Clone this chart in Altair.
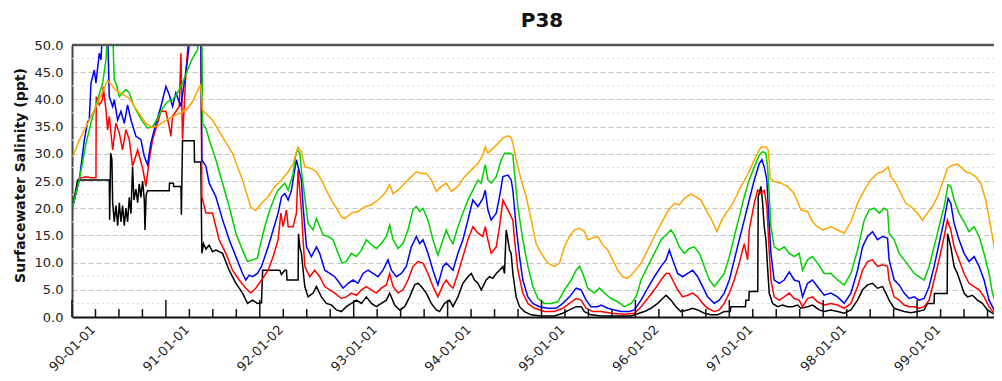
import altair as alt
import pandas as pd

# ---------------- text ----------------
TITLE = "P38"
Y_TITLE = "Surfacewater Salinity (ppt)"
year_ticks = [1990, 1991, 1992, 1993, 1994, 1995, 1996, 1997, 1998, 1999]
year_labels = ["90-01-01", "91-01-01", "92-01-02", "93-01-01", "94-01-01",
               "95-01-01", "96-01-02", "97-01-01", "98-01-01", "99-01-01"]
y_ticks = [0, 5, 10, 15, 20, 25, 30, 35, 40, 45, 50]
y_minor = [2.5, 7.5, 12.5, 17.5, 22.5, 27.5, 32.5, 37.5, 42.5, 47.5]

# ---------------- data: (years since 1990, salinity ppt) ----------------
orange = [(0.007,29.4),(0.078,32.5),(0.184,36.2),(0.273,39.3),(0.379,43.5),(0.468,41.7),(0.610,40.2),(0.681,38.3),(0.787,35.6),(0.858,34.8),(0.929,35.3),(1.000,36.2),(1.106,37.1),(1.213,38.0),(1.284,39.6),(1.355,42.3),(1.372,42.6),(1.390,38.0),(1.496,36.2),(1.603,33.1),(1.709,30.1),(1.816,25.2),(1.904,20.2),(1.957,19.6),(2.018,20.9),(2.089,22.1),(2.160,24.0),(2.231,25.2),(2.302,26.7),(2.355,28.2),(2.390,30.4),(2.408,31.2),(2.443,30.4),(2.479,27.6),(2.550,27.3),(2.603,26.7),(2.656,25.2),(2.709,23.3),(2.763,21.5),(2.816,20.0),(2.869,18.4),(2.904,18.1),(2.975,19.1),(3.046,19.4),(3.117,20.3),(3.188,20.6),(3.259,21.5),(3.330,22.7),(3.383,24.3),(3.419,22.7),(3.472,23.3),(3.543,24.6),(3.614,25.8),(3.667,26.7),(3.720,26.4),(3.773,26.4),(3.826,25.2),(3.880,23.1),(3.933,24.0),(3.986,24.6),(4.039,23.1),(4.110,24.0),(4.181,25.8),(4.252,27.0),(4.323,28.2),(4.376,29.8),(4.401,31.3),(4.429,30.1),(4.482,31.0),(4.535,31.9),(4.589,32.9),(4.642,33.3),(4.677,33.0),(4.695,31.9),(4.730,28.9),(4.784,25.2),(4.837,22.1),(4.890,17.9),(4.943,13.5),(4.996,11.7),(5.067,9.9),(5.138,9.3),(5.191,9.9),(5.245,12.9),(5.298,14.8),(5.351,16.0),(5.404,16.3),(5.457,15.7),(5.493,14.2),(5.546,14.5),(5.599,14.8),(5.652,13.3),(5.706,12.3),(5.759,10.5),(5.812,8.6),(5.865,7.4),(5.918,7.1),(5.972,8.0),(6.060,9.9),(6.131,12.3),(6.202,14.8),(6.273,17.2),(6.344,19.4),(6.415,20.9),(6.468,20.6),(6.521,21.8),(6.592,22.6),(6.645,22.1),(6.698,21.5),(6.751,19.7),(6.805,18.1),(6.868,15.7),(6.911,17.5),(6.964,19.1),(7.017,20.3),(7.071,22.1),(7.124,24.0),(7.195,26.1),(7.248,28.2),(7.301,30.1),(7.337,31.2),(7.390,31.3),(7.415,30.7),(7.436,25.5),(7.478,24.9),(7.549,24.6),(7.620,24.0),(7.691,22.7),(7.762,19.7),(7.833,19.4),(7.886,17.5),(7.939,16.6),(7.993,16.0),(8.082,16.6),(8.153,16.0),(8.224,15.4),(8.295,17.5),(8.366,20.9),(8.437,23.3),(8.507,25.2),(8.578,26.4),(8.632,26.7),(8.692,27.6),(8.720,25.8),(8.773,24.6),(8.827,22.7),(8.880,20.9),(8.933,20.3),(9.004,19.1),(9.057,17.8),(9.110,19.1),(9.163,20.3),(9.217,22.1),(9.270,24.6),(9.323,27.3),(9.376,27.9),(9.429,28.1),(9.465,27.6),(9.518,26.7),(9.571,26.4),(9.624,25.8),(9.678,24.6),(9.731,21.5),(9.784,16.6),(9.820,12.9),(9.855,11.4),(9.890,11.1)]

green = [(0.007,20.3),(0.078,25.2),(0.149,31.9),(0.220,36.9),(0.273,39.9),(0.326,43.0),(0.362,47.3),(0.379,53.0),(0.433,53.0),(0.450,43.6),(0.468,43.0),(0.504,40.5),(0.539,41.2),(0.574,41.8),(0.610,41.2),(0.645,39.3),(0.699,37.5),(0.752,35.9),(0.805,34.7),(0.858,35.0),(0.911,36.5),(0.965,38.4),(1.018,39.6),(1.071,39.9),(1.124,41.2),(1.177,43.0),(1.230,45.4),(1.284,47.6),(1.337,49.1),(1.355,53.0),(1.383,53.0),(1.390,35.6),(1.426,34.7),(1.461,32.6),(1.532,28.9),(1.603,24.6),(1.674,20.3),(1.745,15.4),(1.816,12.3),(1.869,10.2),(1.922,10.5),(1.975,10.8),(2.000,12.9),(2.053,16.6),(2.107,19.7),(2.160,22.1),(2.195,23.3),(2.231,24.0),(2.266,24.6),(2.302,23.3),(2.330,24.9),(2.355,26.4),(2.380,29.5),(2.401,30.7),(2.426,30.1),(2.443,27.0),(2.479,22.1),(2.514,17.2),(2.568,16.0),(2.603,18.1),(2.638,16.6),(2.674,15.1),(2.727,14.8),(2.780,14.2),(2.834,11.7),(2.876,9.9),(2.922,10.2),(2.975,11.7),(3.029,11.1),(3.082,12.3),(3.135,14.2),(3.188,13.3),(3.241,12.6),(3.294,13.5),(3.348,14.8),(3.383,16.9),(3.419,14.2),(3.472,12.6),(3.525,13.5),(3.578,16.0),(3.631,19.7),(3.667,20.3),(3.702,19.4),(3.738,20.0),(3.791,17.8),(3.844,14.2),(3.897,11.4),(3.951,14.2),(3.986,16.0),(4.021,14.5),(4.057,13.5),(4.110,16.6),(4.163,19.1),(4.216,21.5),(4.269,23.3),(4.323,25.2),(4.358,24.6),(4.401,28.0),(4.429,25.2),(4.464,24.6),(4.518,25.8),(4.571,28.9),(4.606,30.1),(4.660,30.1),(4.695,29.8),(4.713,26.4),(4.748,20.3),(4.801,14.2),(4.855,9.3),(4.908,5.6),(4.961,3.4),(5.032,2.5),(5.103,2.5),(5.174,2.8),(5.245,5.0),(5.316,6.8),(5.369,8.6),(5.404,9.3),(5.440,8.0),(5.493,5.3),(5.564,4.4),(5.617,5.3),(5.670,4.4),(5.741,3.4),(5.812,2.8),(5.883,1.9),(5.954,2.5),(6.007,3.7),(6.060,6.8),(6.131,9.3),(6.202,11.7),(6.273,14.2),(6.344,15.4),(6.379,16.0),(6.415,15.1),(6.468,12.9),(6.521,11.7),(6.574,12.6),(6.627,12.9),(6.681,11.7),(6.734,9.3),(6.787,6.8),(6.840,5.6),(6.893,6.8),(6.946,8.0),(7.000,11.1),(7.053,14.8),(7.106,18.4),(7.159,22.1),(7.212,25.2),(7.266,27.6),(7.319,29.8),(7.354,30.4),(7.390,30.1),(7.407,27.6),(7.425,22.7),(7.443,16.6),(7.478,12.9),(7.532,12.3),(7.585,12.9),(7.638,11.7),(7.691,11.1),(7.744,11.7),(7.780,8.6),(7.833,10.5),(7.886,11.1),(7.939,9.9),(8.010,8.0),(8.082,8.0),(8.153,6.8),(8.224,5.9),(8.295,8.0),(8.366,12.3),(8.437,17.8),(8.490,19.7),(8.543,20.0),(8.596,19.1),(8.649,20.0),(8.685,19.7),(8.702,15.4),(8.756,14.2),(8.809,11.7),(8.862,10.5),(8.915,9.3),(8.968,8.0),(9.022,7.4),(9.075,6.8),(9.128,9.3),(9.181,12.9),(9.234,16.6),(9.288,20.3),(9.330,24.3),(9.359,24.0),(9.394,21.5),(9.447,19.1),(9.500,17.5),(9.553,15.7),(9.607,16.6),(9.660,14.8),(9.713,11.7),(9.766,8.0),(9.802,4.4),(9.837,2.5),(9.890,1.9)]

blue = [(0.007,20.3),(0.078,25.2),(0.131,32.5),(0.167,35.9),(0.184,36.2),(0.202,43.0),(0.238,45.4),(0.255,43.0),(0.291,48.5),(0.309,47.3),(0.326,53.0),(0.379,53.0),(0.397,40.5),(0.433,38.7),(0.450,39.9),(0.486,36.2),(0.521,37.8),(0.557,35.6),(0.592,39.0),(0.628,36.2),(0.681,33.2),(0.734,32.6),(0.770,29.5),(0.805,28.0),(0.840,32.0),(0.894,35.6),(0.947,38.7),(1.000,42.4),(1.035,40.9),(1.071,38.7),(1.106,41.2),(1.160,38.7),(1.195,43.0),(1.230,47.3),(1.266,53.0),(1.372,53.0),(1.383,28.9),(1.426,27.7),(1.461,24.6),(1.532,22.1),(1.603,17.9),(1.674,14.2),(1.745,11.1),(1.816,8.0),(1.851,6.8),(1.887,7.7),(1.922,7.4),(1.975,8.0),(2.018,9.3),(2.089,12.9),(2.142,16.0),(2.195,19.1),(2.231,22.1),(2.266,22.7),(2.302,21.5),(2.337,23.3),(2.365,26.4),(2.390,28.9),(2.408,27.6),(2.443,25.2),(2.461,20.3),(2.497,12.9),(2.550,11.1),(2.603,12.9),(2.638,11.7),(2.692,8.6),(2.745,8.0),(2.798,7.4),(2.851,6.2),(2.887,5.3),(2.940,6.2),(2.993,6.8),(3.046,6.2),(3.099,8.0),(3.153,8.6),(3.206,8.0),(3.259,7.4),(3.312,8.6),(3.365,10.5),(3.401,8.6),(3.454,7.4),(3.507,8.0),(3.560,9.3),(3.614,12.9),(3.667,14.8),(3.702,13.5),(3.738,14.2),(3.791,11.7),(3.844,8.6),(3.897,5.9),(3.951,9.3),(3.986,9.9),(4.021,9.3),(4.057,8.6),(4.110,11.7),(4.163,14.2),(4.216,17.8),(4.269,21.5),(4.323,20.3),(4.376,21.8),(4.401,23.3),(4.429,19.7),(4.464,17.8),(4.518,19.1),(4.553,22.1),(4.589,25.8),(4.642,26.1),(4.677,25.2),(4.695,23.3),(4.730,16.6),(4.766,11.1),(4.801,6.8),(4.855,3.7),(4.908,2.5),(4.979,1.9),(5.067,1.6),(5.156,1.6),(5.227,2.5),(5.298,3.7),(5.369,5.3),(5.422,5.0),(5.475,3.1),(5.528,1.9),(5.599,1.9),(5.635,2.2),(5.706,1.6),(5.777,1.3),(5.848,1.0),(5.936,1.0),(5.989,1.3),(6.060,3.1),(6.131,5.3),(6.202,7.4),(6.273,9.3),(6.326,10.5),(6.361,12.3),(6.397,10.5),(6.450,8.0),(6.503,7.4),(6.556,8.0),(6.610,8.6),(6.663,7.4),(6.716,5.6),(6.769,3.7),(6.840,2.5),(6.893,3.1),(6.946,4.4),(7.000,6.8),(7.053,10.5),(7.106,14.2),(7.159,17.8),(7.212,21.5),(7.266,25.2),(7.319,28.2),(7.347,28.9),(7.372,27.6),(7.400,25.2),(7.418,19.1),(7.443,11.7),(7.478,6.8),(7.532,6.2),(7.585,6.8),(7.638,8.3),(7.691,6.8),(7.744,6.5),(7.780,3.7),(7.833,6.2),(7.886,6.8),(7.939,5.6),(8.010,4.0),(8.082,4.4),(8.153,3.7),(8.224,2.5),(8.295,4.4),(8.366,8.6),(8.419,12.9),(8.472,14.8),(8.525,15.7),(8.578,14.2),(8.632,14.8),(8.685,14.5),(8.702,10.5),(8.756,6.8),(8.809,5.9),(8.862,4.4),(8.915,3.4),(8.968,3.7),(9.022,3.1),(9.075,3.4),(9.128,5.6),(9.181,9.3),(9.234,13.5),(9.288,17.8),(9.330,21.8),(9.359,20.9),(9.394,17.2),(9.447,14.2),(9.500,11.7),(9.553,10.2),(9.607,11.1),(9.660,9.3),(9.713,6.8),(9.766,3.1),(9.820,1.3),(9.890,0.7)]

red = [(0.007,20.3),(0.078,25.5),(0.150,25.8),(0.200,25.6),(0.255,25.6),(0.258,40.5),(0.291,39.0),(0.326,40.0),(0.333,42.3),(0.362,38.0),(0.379,34.4),(0.397,36.9),(0.433,30.7),(0.468,35.6),(0.504,33.8),(0.539,30.7),(0.574,34.4),(0.610,32.6),(0.645,27.7),(0.699,30.7),(0.752,27.4),(0.787,24.0),(0.823,28.9),(0.858,32.6),(0.911,35.6),(0.947,37.8),(1.000,37.8),(1.035,35.0),(1.053,33.2),(1.071,36.9),(1.142,38.7),(1.160,48.5),(1.177,32.6),(1.213,44.8),(1.248,53.0),(1.372,53.0),(1.383,22.1),(1.426,19.1),(1.496,19.1),(1.567,14.2),(1.638,11.7),(1.709,8.6),(1.780,6.8),(1.851,5.3),(1.904,4.4),(1.957,5.3),(2.018,6.8),(2.089,8.6),(2.142,11.1),(2.195,14.2),(2.224,19.1),(2.248,16.6),(2.284,19.7),(2.302,16.6),(2.355,16.6),(2.390,19.1),(2.408,27.0),(2.426,23.3),(2.443,19.7),(2.461,14.2),(2.479,9.3),(2.532,7.4),(2.585,8.6),(2.638,7.4),(2.692,5.6),(2.745,5.0),(2.798,4.4),(2.869,3.4),(2.922,3.7),(2.975,4.4),(3.029,4.0),(3.082,5.0),(3.135,5.6),(3.188,5.0),(3.241,4.4),(3.294,5.3),(3.348,5.9),(3.383,8.0),(3.419,5.6),(3.472,4.4),(3.525,5.0),(3.578,6.8),(3.631,9.3),(3.684,10.2),(3.738,9.9),(3.791,8.0),(3.844,5.6),(3.897,3.7),(3.951,5.9),(3.986,6.8),(4.021,5.9),(4.057,5.3),(4.110,8.0),(4.163,11.1),(4.216,14.2),(4.269,16.6),(4.323,15.4),(4.376,14.8),(4.401,16.6),(4.429,14.2),(4.464,11.7),(4.518,12.9),(4.553,16.6),(4.589,21.5),(4.624,20.3),(4.660,19.1),(4.695,17.8),(4.713,14.2),(4.748,8.6),(4.801,4.4),(4.855,2.5),(4.926,1.6),(5.032,1.0),(5.138,1.0),(5.227,1.6),(5.298,2.5),(5.369,3.4),(5.422,3.1),(5.475,1.6),(5.546,1.0),(5.635,1.0),(5.741,0.7),(5.883,0.5),(5.989,0.7),(6.060,1.9),(6.131,3.4),(6.202,5.0),(6.273,6.8),(6.326,8.0),(6.361,8.0),(6.397,6.8),(6.450,5.0),(6.503,3.7),(6.556,4.0),(6.610,4.4),(6.663,3.7),(6.716,2.5),(6.769,1.6),(6.840,1.0),(6.893,1.3),(6.946,2.5),(7.000,4.4),(7.053,6.8),(7.106,9.9),(7.159,13.5),(7.195,10.5),(7.212,16.0),(7.266,20.9),(7.301,23.3),(7.337,22.7),(7.372,23.3),(7.400,20.3),(7.418,14.2),(7.443,6.8),(7.478,3.7),(7.532,3.1),(7.585,3.7),(7.638,4.4),(7.691,3.4),(7.744,3.1),(7.780,1.9),(7.833,3.4),(7.886,3.7),(7.939,2.8),(8.010,2.2),(8.082,2.5),(8.153,2.2),(8.224,1.6),(8.295,2.5),(8.366,5.6),(8.419,8.6),(8.472,10.2),(8.525,10.5),(8.578,9.3),(8.632,9.6),(8.685,9.3),(8.702,6.8),(8.756,3.7),(8.809,3.1),(8.862,2.2),(8.915,1.9),(8.968,1.9),(9.022,1.6),(9.075,1.9),(9.128,3.1),(9.181,6.8),(9.234,10.5),(9.288,14.8),(9.323,17.8),(9.359,16.0),(9.394,12.9),(9.447,10.5),(9.500,8.0),(9.553,6.2),(9.607,5.6),(9.660,5.0),(9.713,3.7),(9.766,1.9),(9.820,0.7),(9.890,0.4)]

black = [(0.007,20.3),(0.060,25.2),(0.397,25.2),(0.401,17.9),(0.412,30.1),(0.425,29.0),(0.433,21.0),(0.450,17.5),(0.468,20.5),(0.486,16.8),(0.504,21.0),(0.521,17.5),(0.539,20.5),(0.557,16.8),(0.574,20.0),(0.592,17.5),(0.610,22.0),(0.628,19.0),(0.645,27.6),(0.660,21.5),(0.681,23.5),(0.699,21.0),(0.716,24.5),(0.734,22.0),(0.752,25.0),(0.770,21.5),(0.777,16.0),(0.790,22.5),(0.805,23.2),(1.035,23.2),(1.038,24.6),(1.080,24.6),(1.083,24.0),(1.160,24.0),(1.165,18.8),(1.177,32.4),(1.301,32.4),(1.305,28.5),(1.372,28.5),(1.383,11.7),(1.400,13.5),(1.426,12.5),(1.461,13.2),(1.496,12.0),(1.532,12.3),(1.603,11.7),(1.674,8.6),(1.745,6.2),(1.816,4.4),(1.869,2.5),(1.922,3.1),(1.975,2.5),(2.018,2.6),(2.030,8.6),(2.213,8.6),(2.230,7.8),(2.266,8.6),(2.284,8.6),(2.290,6.8),(2.408,6.8),(2.412,15.3),(2.426,12.9),(2.443,11.7),(2.479,5.6),(2.514,3.7),(2.568,4.4),(2.603,5.6),(2.656,3.7),(2.709,2.5),(2.763,2.2),(2.816,1.3),(2.869,1.0),(2.922,1.9),(2.975,2.5),(3.029,3.1),(3.082,2.5),(3.135,3.7),(3.188,2.5),(3.241,1.9),(3.294,2.5),(3.348,3.1),(3.383,4.4),(3.436,2.2),(3.489,1.3),(3.543,1.9),(3.596,3.7),(3.649,5.9),(3.684,6.2),(3.720,5.6),(3.773,4.4),(3.826,2.5),(3.880,1.3),(3.915,1.0),(3.968,2.5),(4.021,3.1),(4.057,1.9),(4.110,3.7),(4.163,6.2),(4.216,7.4),(4.252,8.0),(4.287,6.8),(4.323,6.2),(4.358,5.0),(4.376,5.6),(4.411,6.8),(4.447,7.4),(4.482,7.1),(4.518,8.0),(4.553,8.6),(4.589,9.3),(4.606,8.0),(4.624,16.0),(4.642,14.2),(4.660,12.3),(4.677,11.7),(4.695,8.0),(4.730,3.7),(4.766,1.9),(4.819,1.0),(4.890,0.4),(4.996,0.2),(5.138,0.2),(5.227,0.7),(5.298,1.3),(5.369,1.9),(5.422,1.9),(5.457,1.0),(5.528,0.4),(5.635,0.2),(5.812,0.2),(5.954,0.2),(6.095,1.0),(6.166,1.6),(6.237,2.5),(6.290,3.4),(6.326,4.0),(6.344,3.7),(6.379,3.1),(6.432,1.9),(6.485,1.0),(6.556,1.3),(6.610,1.6),(6.663,1.3),(6.734,0.7),(6.805,0.4),(6.876,0.4),(6.946,1.0),(7.010,1.0),(7.017,1.9),(7.172,1.9),(7.177,3.1),(7.208,3.1),(7.212,4.7),(7.303,4.7),(7.308,22.1),(7.337,24.0),(7.355,21.0),(7.372,16.6),(7.390,14.2),(7.407,9.3),(7.425,4.4),(7.461,2.5),(7.514,1.9),(7.567,2.2),(7.620,1.9),(7.674,1.9),(7.727,2.2),(7.762,1.6),(7.833,1.9),(7.886,2.2),(7.957,1.3),(8.010,1.0),(8.082,1.3),(8.153,1.0),(8.224,0.7),(8.295,1.3),(8.366,3.1),(8.419,5.0),(8.472,5.9),(8.525,6.2),(8.578,5.3),(8.632,5.6),(8.667,4.4),(8.702,3.1),(8.756,1.6),(8.809,1.3),(8.862,1.0),(8.933,0.8),(9.004,1.0),(9.075,1.3),(9.110,2.5),(9.180,2.5),(9.185,4.3),(9.320,4.3),(9.325,15.3),(9.359,12.9),(9.394,9.3),(9.429,8.0),(9.465,6.2),(9.500,4.4),(9.536,3.7),(9.589,4.0),(9.642,3.1),(9.695,2.5),(9.749,1.3),(9.802,0.7),(9.855,0.4),(9.890,0.4)]

series_order = ["black", "red", "blue", "green", "orange"]
series_data = {"black": black, "red": red, "blue": blue, "green": green, "orange": orange}
series_colors = {"black": "#000000", "red": "#ff0000", "blue": "#0000ff",
                 "green": "#00d000", "orange": "#ffa500"}

# ---------------- layout ----------------
W, H = 922, 272
X_END = 1990 + W / 93.9
FONT = "DejaVu Sans"

rows = []
for s in series_order:
    for i, (t, v) in enumerate(series_data[s]):
        rows.append({"s": s, "i": i, "t": 1990 + t, "v": v})
df = pd.DataFrame(rows)

label_expr = "[" + ",".join("'%s'" % l for l in year_labels) + "][round(datum.value) - 1990]"

x_enc = alt.X("t:Q",
              scale=alt.Scale(domain=[1990, X_END], nice=False, zero=False),
              axis=alt.Axis(values=year_ticks, labelExpr=label_expr, ticks=False, grid=False,
                            domainColor="#111111", domainWidth=2, labelAngle=315,
                            labelAlign="center", labelBaseline="middle", labelPadding=31,
                            labelFont=FONT, labelFontSize=13, labelColor="#222222",
                            labelOverlap=False, labelFlush=False, title=None))
y_enc = alt.Y("v:Q",
              scale=alt.Scale(domain=[0, 50], nice=False),
              axis=alt.Axis(values=y_ticks, format=".1f", ticks=False, grid=True,
                            gridColor="#c4c4c4", gridDash=[5, 3], gridWidth=1,
                            domainColor="#444444", domainWidth=2, labelPadding=9,
                            labelFont=FONT, labelFontSize=13, labelColor="#222222",
                            labelOverlap=False, labelFlush=False,
                            title=Y_TITLE, titleFont=FONT, titleFontSize=14,
                            titleFontWeight="bold", titleColor="#111111",
                            titleX=-52, titleY=130, titleAngle=270,
                            titleAlign="center", titleBaseline="middle"))

minor_grid = alt.Chart(pd.DataFrame({"v": y_minor})).mark_rule(
    color="#dcdcdc", strokeDash=[2, 3], strokeWidth=1).encode(y=y_enc)

lines = []
for s in series_order:
    lines.append(
        alt.Chart(df).transform_filter(alt.datum.s == s).mark_line(
            color=series_colors[s], strokeWidth=1.5, clip=True).encode(
            x=x_enc, y=y_enc, order=alt.Order("i:Q")))

quarter_ticks = [y + q / 4 for y in year_ticks for q in (1, 2, 3) if y + q / 4 < X_END]
major_ticks = alt.Chart(pd.DataFrame({"t": year_ticks})).mark_rule(
    color="#111111", strokeWidth=1.5).encode(x=x_enc, y=alt.value(H), y2=alt.value(H - 17))
minor_ticks = alt.Chart(pd.DataFrame({"t": quarter_ticks})).mark_rule(
    color="#111111", strokeWidth=1.5).encode(x=x_enc, y=alt.value(H), y2=alt.value(H - 8))

top_frame = alt.Chart(pd.DataFrame({"z": [0]})).mark_rule(
    color="#555555", strokeWidth=2.5).encode(x=alt.value(0), x2=alt.value(W), y=alt.value(0))

title_text = alt.Chart(pd.DataFrame({"label": [TITLE]})).mark_text(
    font=FONT, fontSize=20, fontWeight="bold", color="#111111",
    align="center", baseline="alphabetic").encode(
    x=alt.value(470), y=alt.value(-18), text="label:N")

chart = alt.layer(minor_grid, *lines, major_ticks, minor_ticks, top_frame, title_text).properties(
    width=W, height=H,
    padding={"left": 64, "top": 37, "right": 0, "bottom": 56},
    autosize=alt.AutoSizeParams(type="none"),
).configure_view(stroke=None).configure(background="white")

chart.save("out.html", embed_options={"renderer": "svg", "actions": False})
